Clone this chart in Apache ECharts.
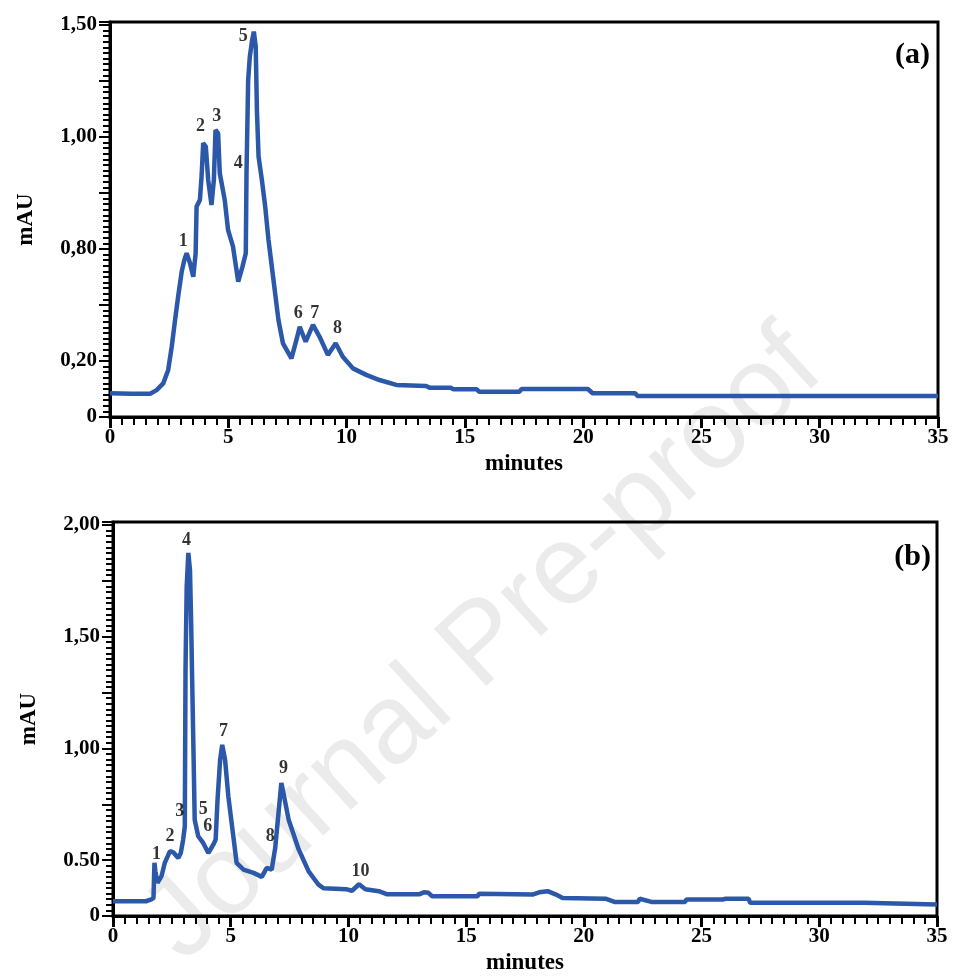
<!DOCTYPE html>
<html>
<head>
<meta charset="utf-8">
<script src="https://cdn.jsdelivr.net/npm/echarts@6/dist/echarts.min.js"></script>
<style>html,body{margin:0;padding:0;background:#fff}#c{width:957px;height:980px}</style>
</head>
<body>
<div id="c"></div>
<script>
// ---- Panel (a) chromatogram: time (min), signal (in axis units of the plotted scale)
var timeA = [0, 0.9, 1.7, 1.97, 2.25, 2.46, 2.61, 2.75, 2.89, 3.03, 3.14, 3.24, 3.38, 3.52, 3.62, 3.66, 3.80, 3.87, 3.94, 4.05, 4.15, 4.29, 4.39, 4.46, 4.57, 4.64, 4.85, 4.99, 5.20, 5.42, 5.60, 5.74, 5.77, 5.84, 5.91, 6.01, 6.08, 6.16, 6.21, 6.28, 6.42, 6.56, 6.70, 6.91, 7.12, 7.31, 7.67, 7.88, 8.02, 8.27, 8.58, 8.86, 9.21, 9.54, 9.84, 10.27, 10.83, 11.39, 12.10, 13.36, 13.5, 14.4, 14.5, 15.5, 15.6, 17.3, 17.4, 20.2, 20.4, 22.2, 22.3, 35];
var signalA = [0.106, 0.104, 0.104, 0.12, 0.150, 0.21, 0.314, 0.433, 0.545, 0.648, 0.70, 0.731, 0.687, 0.626, 0.731, 0.939, 0.969, 1.073, 1.222, 1.207, 1.058, 0.946, 1.058, 1.281, 1.266, 1.088, 0.969, 0.835, 0.760, 0.604, 0.671, 0.731, 1.088, 1.504, 1.608, 1.683, 1.720, 1.653, 1.370, 1.162, 1.058, 0.939, 0.790, 0.612, 0.433, 0.329, 0.262, 0.344, 0.403, 0.336, 0.411, 0.358, 0.277, 0.329, 0.269, 0.217, 0.188, 0.165, 0.143, 0.138, 0.131, 0.131, 0.124, 0.124, 0.113, 0.113, 0.125, 0.125, 0.106, 0.106, 0.094, 0.094];
var peakNamesA = ['1', '2', '3', '4', '5', '6', '7', '8'];
var peakTimeA  = [3.10, 3.83, 4.51, 5.42, 5.63, 7.96, 8.66, 9.62];
var peakLevelA = [0.783, 1.296, 1.341, 1.133, 1.698, 0.463, 0.463, 0.396];

// ---- Panel (b) chromatogram
var timeB = [0, 1.4, 1.63, 1.72, 1.76, 1.80, 1.89, 2.06, 2.20, 2.42, 2.56, 2.77, 2.88, 2.98, 3.05, 3.08, 3.13, 3.20, 3.27, 3.32, 3.36, 3.42, 3.47, 3.62, 3.83, 4.05, 4.26, 4.36, 4.44, 4.55, 4.64, 4.76, 4.90, 5.11, 5.25, 5.54, 5.97, 6.32, 6.53, 6.74, 6.89, 7.03, 7.15, 7.24, 7.46, 7.88, 8.31, 8.73, 8.95, 9.9, 10.15, 10.45, 10.72, 11.29, 11.65, 13.0, 13.2, 13.4, 13.56, 15.48, 15.55, 17.82, 18.1, 18.46, 18.82, 19.1, 20.95, 21.3, 22.3, 22.37, 22.87, 24.3, 24.36, 25.9, 26.0, 27.0, 27.06, 31.88, 31.95, 35];
var signalB = [0.066, 0.066, 0.074, 0.08, 0.238, 0.20, 0.148, 0.178, 0.238, 0.290, 0.285, 0.260, 0.282, 0.342, 0.40, 1.101, 1.474, 1.625, 1.548, 1.31, 1.071, 0.729, 0.431, 0.357, 0.327, 0.282, 0.319, 0.342, 0.52, 0.699, 0.766, 0.699, 0.535, 0.357, 0.238, 0.208, 0.193, 0.175, 0.215, 0.208, 0.305, 0.461, 0.595, 0.550, 0.431, 0.300, 0.200, 0.140, 0.124, 0.120, 0.113, 0.142, 0.120, 0.111, 0.097, 0.097, 0.106, 0.104, 0.088, 0.088, 0.10, 0.096, 0.106, 0.111, 0.096, 0.081, 0.077, 0.063, 0.063, 0.077, 0.063, 0.063, 0.074, 0.074, 0.077, 0.077, 0.059, 0.059, 0.051, 0.051];
var peakNamesB = ['1', '2', '3', '4', '5', '6', '7', '8', '9', '10'];
var peakTimeB  = [1.85, 2.42, 2.84, 3.12, 3.83, 4.02, 4.69, 6.68, 7.24, 10.51];
var peakLevelB = [0.275, 0.357, 0.468, 1.682, 0.476, 0.399, 0.826, 0.357, 0.662, 0.200];

// ---- Axis tick positions (plotted scale) and their printed labels
var yTickPosA = [0, 0.25, 0.75, 1.25, 1.75];
var yTickTextA = ['0', '0,20', '0,80', '1,00', '1,50'];
var yTickPosB = [0, 0.25, 0.75, 1.25, 1.75];
var yTickTextB = ['0', '0.50', '1,00', '1,50', '2,00'];
var xTickStep = 5;
var yTickStep = 0.25;
var xMax = 35;

var FONT = 'Liberation Serif';
var LINE = '#2b58a8';

function zip(xs, ys) { return xs.map(function (x, i) { return [x, ys[i]]; }); }
function peaks(names, xs, ys) { return names.map(function (n, i) { return { name: n, value: [xs[i], ys[i]] }; }); }
function yFmt(pos, txt) {
  return function (v) {
    for (var i = 0; i < pos.length; i++) if (Math.abs(pos[i] - v) < 1e-6) return txt[i];
    return '';
  };
}
function xAxisCfg(gi) {
  return {
    type: 'value', gridIndex: gi, position: 'bottom', min: 0, max: xMax, interval: xTickStep,
    name: 'minutes', nameLocation: 'middle', nameGap: 36,
    nameTextStyle: { fontFamily: FONT, fontWeight: 'bold', fontSize: 23, color: '#000' },
    axisLine: { show: true, lineStyle: { color: '#000', width: 3 } },
    axisTick: { show: true, inside: false, length: 11, lineStyle: { color: '#000', width: 3 } },
    minorTick: { show: true, splitNumber: 10, length: 8, lineStyle: { color: '#000', width: 2 } },
    splitLine: { show: false }, minorSplitLine: { show: false },
    axisLabel: { margin: 10, fontFamily: FONT, fontWeight: 'bold', fontSize: 21, color: '#000' }
  };
}
function yAxisCfg(gi, max, pos, txt) {
  return {
    type: 'value', gridIndex: gi, position: 'left', min: 0, max: max, interval: yTickStep,
    name: 'mAU', nameLocation: 'middle', nameGap: 72, nameRotate: 90,
    nameTextStyle: { fontFamily: FONT, fontWeight: 'bold', fontSize: 23, color: '#000' },
    axisLine: { show: true, lineStyle: { color: '#000', width: 3 } },
    axisTick: { show: true, inside: false, length: 11, lineStyle: { color: '#000', width: 2 } },
    minorTick: { show: true, splitNumber: 10, length: 7, lineStyle: { color: '#000', width: 2 } },
    splitLine: { show: false }, minorSplitLine: { show: false },
    axisLabel: { margin: 13, fontFamily: FONT, fontWeight: 'bold', fontSize: 21, color: '#000', formatter: yFmt(pos, txt) }
  };
}
function peakSeries(gi, data) {
  return {
    type: 'scatter', xAxisIndex: gi, yAxisIndex: gi, data: data, symbolSize: 2,
    itemStyle: { color: 'rgba(0,0,0,0)' }, silent: true, z: 5,
    labelLayout: { hideOverlap: false },
    label: { show: true, position: 'inside', formatter: '{b}', fontFamily: FONT, fontWeight: 'bold', fontSize: 18, color: '#000' }
  };
}

var chart = echarts.init(document.getElementById('c'), null, { renderer: 'canvas' });
chart.setOption({
  animation: false,
  backgroundColor: '#fff',
  graphic: [{
    type: 'text', z: 0, x: 484, y: 646, rotation: Math.PI * 42.5 / 180,
    style: { text: 'Journal Pre-proof', fontFamily: 'Liberation Sans', fontSize: 113, fill: 'rgba(0,0,0,0.08)', align: 'center', verticalAlign: 'middle' }
  }, {
    type: 'text', z: 10, x: 930, y: 55,
    style: { text: '(a)', fontFamily: FONT, fontWeight: 'bold', fontSize: 30, fill: '#000', align: 'right', verticalAlign: 'middle' }
  }, {
    type: 'text', z: 10, x: 931, y: 557,
    style: { text: '(b)', fontFamily: FONT, fontWeight: 'bold', fontSize: 30, fill: '#000', align: 'right', verticalAlign: 'middle' }
  }],
  grid: [
    { left: 110, top: 22, width: 828, height: 395, show: true, borderColor: '#000', borderWidth: 3, backgroundColor: 'transparent' },
    { left: 113, top: 522, width: 824, height: 394, show: true, borderColor: '#000', borderWidth: 3, backgroundColor: 'transparent' }
  ],
  xAxis: [xAxisCfg(0), xAxisCfg(1)],
  yAxis: [yAxisCfg(0, 1.763, yTickPosA, yTickTextA), yAxisCfg(1, 1.763, yTickPosB, yTickTextB)],
  series: [
    { type: 'line', xAxisIndex: 0, yAxisIndex: 0, data: zip(timeA, signalA), showSymbol: false, symbol: 'none', smooth: false,
      lineStyle: { color: LINE, width: 4.5 }, z: 3 },
    { type: 'line', xAxisIndex: 1, yAxisIndex: 1, data: zip(timeB, signalB), showSymbol: false, symbol: 'none', smooth: false,
      lineStyle: { color: LINE, width: 4.5 }, z: 3 },
    peakSeries(0, peaks(peakNamesA, peakTimeA, peakLevelA)),
    peakSeries(1, peaks(peakNamesB, peakTimeB, peakLevelB))
  ]
});
</script>
</body>
</html>
